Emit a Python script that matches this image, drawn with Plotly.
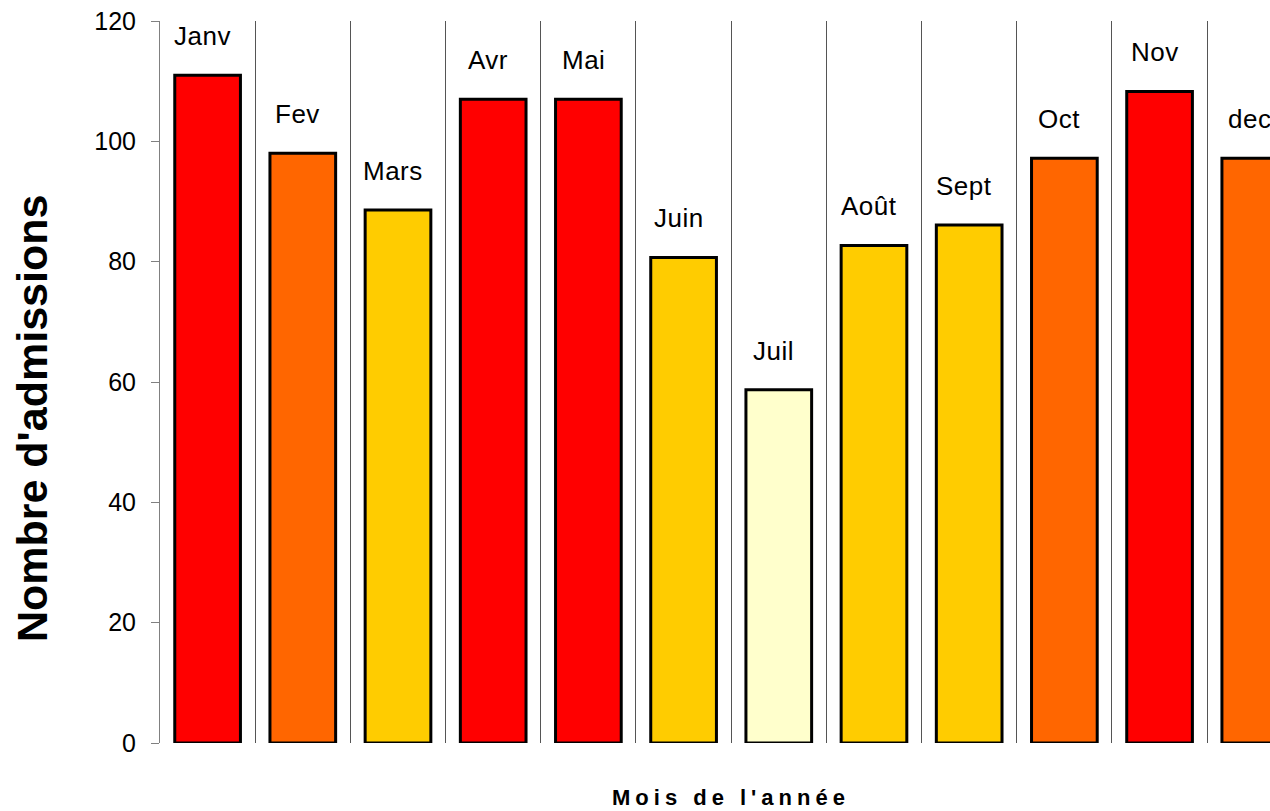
import plotly.graph_objects as go

months = ["Janv", "Fev", "Mars", "Avr", "Mai", "Juin", "Juil", "Août", "Sept", "Oct", "Nov", "dec"]
admissions = [111, 98, 88.6, 107, 107, 80.7, 58.7, 82.7, 86.1, 97.2, 108.3, 97.2]
colors = ["#FF0000", "#FF6600", "#FFCC00", "#FF0000", "#FF0000", "#FFCC00",
          "#FFFFCC", "#FFCC00", "#FFCC00", "#FF6600", "#FF0000", "#FF6600"]
y_ticks = [0, 20, 40, 60, 80, 100, 120]
y_title = "Nombre d'admissions"
x_title = "Mois de l'année"

FONT = "Liberation Sans, Arial, sans-serif"
xs = list(range(len(months)))

fig = go.Figure()
fig.add_trace(go.Bar(
    x=xs, y=admissions, width=0.69,
    marker=dict(color=colors, line=dict(color="black", width=3)),
    hoverinfo="skip", showlegend=False,
))

annotations = []
for i, (m, v) in enumerate(zip(months, admissions)):
    annotations.append(dict(
        x=i, y=v, xref="x", yref="y", text=f'<span style="letter-spacing:0.5px">{m}</span>',
        showarrow=False, yanchor="middle", yshift=39, xshift=-5,
        font=dict(family=FONT, size=26, color="black"),
    ))
annotations.append(dict(
    x=(len(months) - 1) / 2, y=0, xref="x", yref="paper",
    text=f'<b><span style="letter-spacing:5px">{x_title}</span></b>',
    showarrow=False, yanchor="middle", yshift=-54, borderpad=0,
    font=dict(family=FONT, size=22, color="black"),
))
annotations.append(dict(
    x=0, y=0.45, xref="paper", yref="paper",
    text=f"<b>{y_title}</b>", textangle=-90,
    showarrow=False, xanchor="center", yanchor="middle", xshift=-128,
    font=dict(family=FONT, size=43, color="black"),
))

fig.update_layout(
    width=1270, height=811,
    margin=dict(l=160, r=0, t=21, b=68),
    paper_bgcolor="white", plot_bgcolor="white",
    font=dict(family=FONT, color="black"),
    annotations=annotations,
    bargap=0.3,
)
fig.update_xaxes(
    range=[-0.5, 11.16], tickvals=[i + 0.5 for i in range(len(months) - 1)],
    showticklabels=False, ticks="", showgrid=True, gridcolor="#555555", gridwidth=1,
    showline=False, zeroline=False,
)
fig.update_yaxes(
    range=[0, 120], tickvals=y_ticks, showgrid=False, zeroline=False,
    showline=True, linecolor="#808080", linewidth=1,
    ticks="outside", ticklen=8, tickcolor="#808080", tickwidth=1,
    ticklabelstandoff=10,
    tickfont=dict(family=FONT, size=25, color="black"),
)

fig.write_html("out.html")
